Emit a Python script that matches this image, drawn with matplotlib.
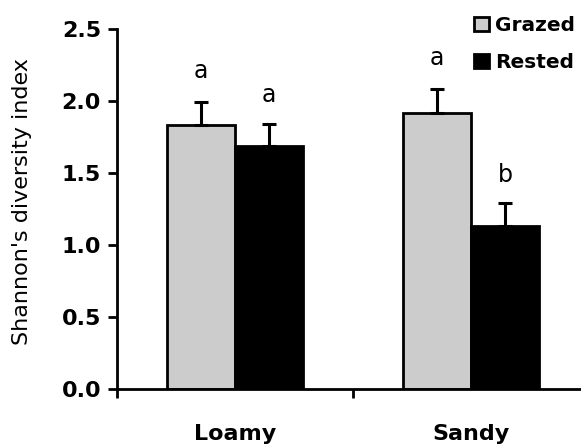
import numpy as np
import matplotlib
matplotlib.use("Agg")
import matplotlib.pyplot as plt

plt.rcParams["font.family"] = ["DejaVu Sans"]

# ── data ─────────────────────────────────────────────────────────────────────
soils   = ["Loamy", "Sandy"]
grazed  = [1.83, 1.92]
rested  = [1.69, 1.13]
err_g   = [0.16, 0.16]
err_r   = [0.15, 0.16]
let_g   = ["a", "a"]
let_r   = ["a", "b"]

x = np.arange(len(soils))
w = 0.288

fig = plt.figure(figsize=(5.81, 4.46), dpi=100)
ax = fig.add_axes([117 / 581, 1 - 389 / 446, 472 / 581, 360 / 446])

ekw = dict(elinewidth=2.2, capthick=2.2, ecolor="black")
ax.bar(x - w / 2, grazed, w, color="#cccccc", edgecolor="black", linewidth=2,
       yerr=[np.zeros(2), err_g], capsize=4.8, error_kw=ekw, label="Grazed", zorder=2)
ax.bar(x + w / 2, rested, w, color="black", edgecolor="black", linewidth=2,
       yerr=[np.zeros(2), err_r], capsize=4.8, error_kw=ekw, label="Rested", zorder=2)

for i in range(len(soils)):
    ax.text(x[i] - w / 2, grazed[i] + err_g[i] + 0.17, let_g[i], ha="center", va="baseline",
            fontsize=17)
    ax.text(x[i] + w / 2, rested[i] + err_r[i] + 0.15, let_r[i], ha="center", va="baseline",
            fontsize=17)

ax.set_xlim(-0.5, 1.5)
ax.set_ylim(0, 2.5)
ax.set_yticks(np.arange(0, 2.51, 0.5))
ax.set_yticklabels([f"{v:.1f}" for v in np.arange(0, 2.51, 0.5)], fontsize=16, fontweight="bold")
ax.set_xticks([-0.5, 0.5])
ax.set_xticklabels([])
for i, s in enumerate(soils):
    ax.text(x[i], -0.245, s, ha="center", va="top", fontsize=16, fontweight="bold")
ax.set_ylabel("Shannon's diversity index", fontsize=16)
ax.yaxis.set_label_coords(-0.18, 0.522)

for side in ["top", "right"]:
    ax.spines[side].set_visible(False)
for side in ["left", "bottom"]:
    ax.spines[side].set_linewidth(2)
ax.tick_params(axis="both", direction="out", length=6.5, width=2)
ax.tick_params(axis="y", pad=5)

ax.legend(loc="upper left", bbox_to_anchor=(474 / 581, 1 - 16 / 446),
          bbox_transform=fig.transFigure, frameon=False, borderpad=0, borderaxespad=0,
          handlelength=0.75, handleheight=0.75, handletextpad=0.3, labelspacing=0.9,
          prop=dict(size=14.5, weight="bold"))

fig.savefig("out.png", dpi=100)
